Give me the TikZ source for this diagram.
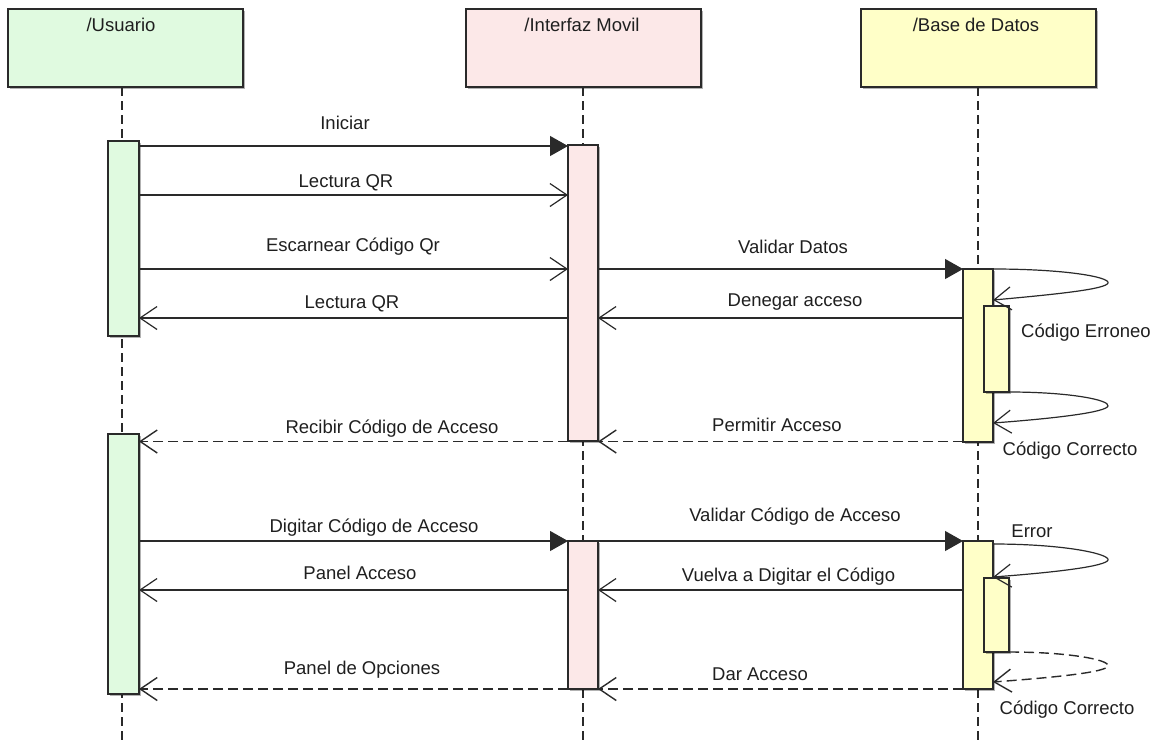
\documentclass[tikz,border=0pt]{standalone}
\usepackage{fontspec}
\setmainfont{Liberation Sans}
\usetikzlibrary{arrows.meta,shadows}
\definecolor{ugreen}{HTML}{E0FAE0}
\definecolor{ipink}{HTML}{FCE8E8}
\definecolor{byellow}{HTML}{FFFFC8}
\definecolor{ink}{HTML}{2A2A2A}
\begin{document}
\begin{tikzpicture}[x=1pt,y=-1pt,
  shd/.style={drop shadow={shadow xshift=1.5pt,shadow yshift=-1.5pt,fill=black,opacity=0.3}},
  headbox/.style={draw=ink, line width=1.3pt, anchor=north west, inner sep=0pt, outer sep=0pt,
                  minimum width=235pt, minimum height=78pt, shd},
  actbar/.style={draw=ink, line width=1.2pt, anchor=north west, inner sep=0pt, outer sep=0pt, shd},
  life/.style={draw=ink, line width=1.5pt, dash pattern=on 9pt off 5pt},
  msgtxt/.style={anchor=base, inner sep=0pt, font=\fontsize{18.5}{22}\selectfont, text=black!88},
  ttl/.style={anchor=base, inner sep=0pt, font=\fontsize{18.5}{22}\selectfont, text=black!88},
  call/.style={draw=ink, line width=1.2pt, -{Triangle[length=18pt,width=20pt]}},
  sync/.style={draw=ink, line width=1.2pt, -{Straight Barb[length=17pt,width=23pt]}},
  reply/.style={draw=ink, line width=1.4pt, dash pattern=on 10pt off 5pt, -{Straight Barb[length=17pt,width=23pt]}}
]
\useasboundingbox (0,0) rectangle (1161,740);

% heads
\node[headbox, fill=ugreen] (hU) at (8,9) {};
\node[headbox, fill=ipink] (hI) at (466,9) {};
\node[headbox, fill=byellow] (hB) at (861,9) {};
\node[ttl] (tU) at (121,31.5) {/Usuario};
\node[ttl] (tI) at (582,31.5) {/Interfaz Movil};
\node[ttl] (tB) at (976,31.5) {/Base de Datos};

% lifelines
\coordinate (eU) at (122,740);
\coordinate (eI) at (583,740);
\coordinate (eB) at (978,740);
\draw[life] (hU.south -| eU) -- (eU);
\draw[life] (hI.south -| eI) -- (eI);
\draw[life] (hB.south -| eB) -- (eB);

% activation bars
\node[actbar, fill=ugreen, minimum width=31pt, minimum height=195pt] (u1) at (108,141) {};
\node[actbar, fill=ugreen, minimum width=31pt, minimum height=260pt] (u2) at (108,434) {};
\node[actbar, fill=ipink, minimum width=30pt, minimum height=296pt] (i1) at (568,145) {};
\node[actbar, fill=ipink, minimum width=30pt, minimum height=148pt] (i2) at (568,541) {};
\node[actbar, fill=byellow, minimum width=30pt, minimum height=173pt] (b1) at (963,269) {};
\node[actbar, fill=byellow, minimum width=25pt, minimum height=86pt] (b1n) at (984,306) {};
\node[actbar, fill=byellow, minimum width=30pt, minimum height=148pt] (b2) at (963,541) {};
\node[actbar, fill=byellow, minimum width=25pt, minimum height=74pt] (b2n) at (984,578) {};

% messages
\draw[call]  (u1.east |- 0,146) -- (i1.west |- 0,146);
\draw[sync]  (u1.east |- 0,195) -- (i1.west |- 0,195);
\draw[sync]  (u1.east |- 0,269) -- (i1.west |- 0,269);
\draw[sync]  (i1.west |- 0,318) -- (u1.east |- 0,318);
\draw[call]  (i1.east |- 0,269) -- (b1.west |- 0,269);
\draw[sync]  (b1.west |- 0,318) -- (i1.east |- 0,318);
\draw[reply] (i1.west |- 0,441.5) -- (u2.east |- 0,441.5);
\draw[reply] (b1.west |- 0,441.5) -- (i1.east |- 0,441.5);
\draw[call]  (u2.east |- 0,541) -- (i2.west |- 0,541);
\draw[call]  (i2.east |- 0,541) -- (b2.west |- 0,541);
\draw[sync]  (i2.west |- 0,590) -- (u2.east |- 0,590);
\draw[sync]  (b2.west |- 0,590) -- (i2.east |- 0,590);
\draw[reply] (i2.west |- 0,689) -- (u2.east |- 0,689);
\draw[reply] (b2.west |- 0,689) -- (i2.east |- 0,689);

% self messages
\draw[sync] (b1.north east) .. controls (1065,269) and (1110,277) .. (1108,283)
            .. controls (1106,289) and (1060,294) .. (b1.east |- 0,300);
\draw[sync] (b1n.south east) .. controls (1070,392) and (1110,400) .. (1108,406)
            .. controls (1106,412) and (1060,418) .. (b1.east |- 0,423);
\draw[sync] (b2.east |- 0,544) .. controls (1065,544) and (1110,554) .. (1108,560)
            .. controls (1106,566) and (1060,572) .. (b2.east |- 0,577);
\draw[reply] (b2n.south east) .. controls (1070,652) and (1110,660) .. (1108,666)
            .. controls (1106,672) and (1060,677) .. (b2.east |- 0,682);

% labels
\node[msgtxt] (m1) at (345,129.5) {Iniciar};
\node[msgtxt] (m2) at (346,187.5) {Lectura QR};
\node[msgtxt] (m3) at (353,251.5) {Escarnear Código Qr};
\node[msgtxt] (m4) at (352,308.5) {Lectura QR};
\node[msgtxt] (m5) at (793,253.5) {Validar Datos};
\node[msgtxt] (m6) at (795,306.5) {Denegar acceso};
\node[msgtxt] (m7) at (392,433.5) {Recibir Código de Acceso};
\node[msgtxt] (m8) at (777,431.5) {Permitir Acceso};
\node[msgtxt] (m9) at (374,532.5) {Digitar Código de Acceso};
\node[msgtxt] (m10) at (795,521.5) {Validar Código de Acceso};
\node[msgtxt] (m11) at (360,579.5) {Panel Acceso};
\node[msgtxt] (m12) at (788.5,581.5) {Vuelva a Digitar el Código};
\node[msgtxt] (m13) at (362,674.5) {Panel de Opciones};
\node[msgtxt] (m14) at (760,680.5) {Dar Acceso};
\node[msgtxt] (s1) at (1086,337.5) {Código Erroneo};
\node[msgtxt] (s2) at (1070,455.5) {Código Correcto};
\node[msgtxt] (s3) at (1032,537.5) {Error};
\node[msgtxt] (s4) at (1067,714.5) {Código Correcto};
\end{tikzpicture}
\end{document}
